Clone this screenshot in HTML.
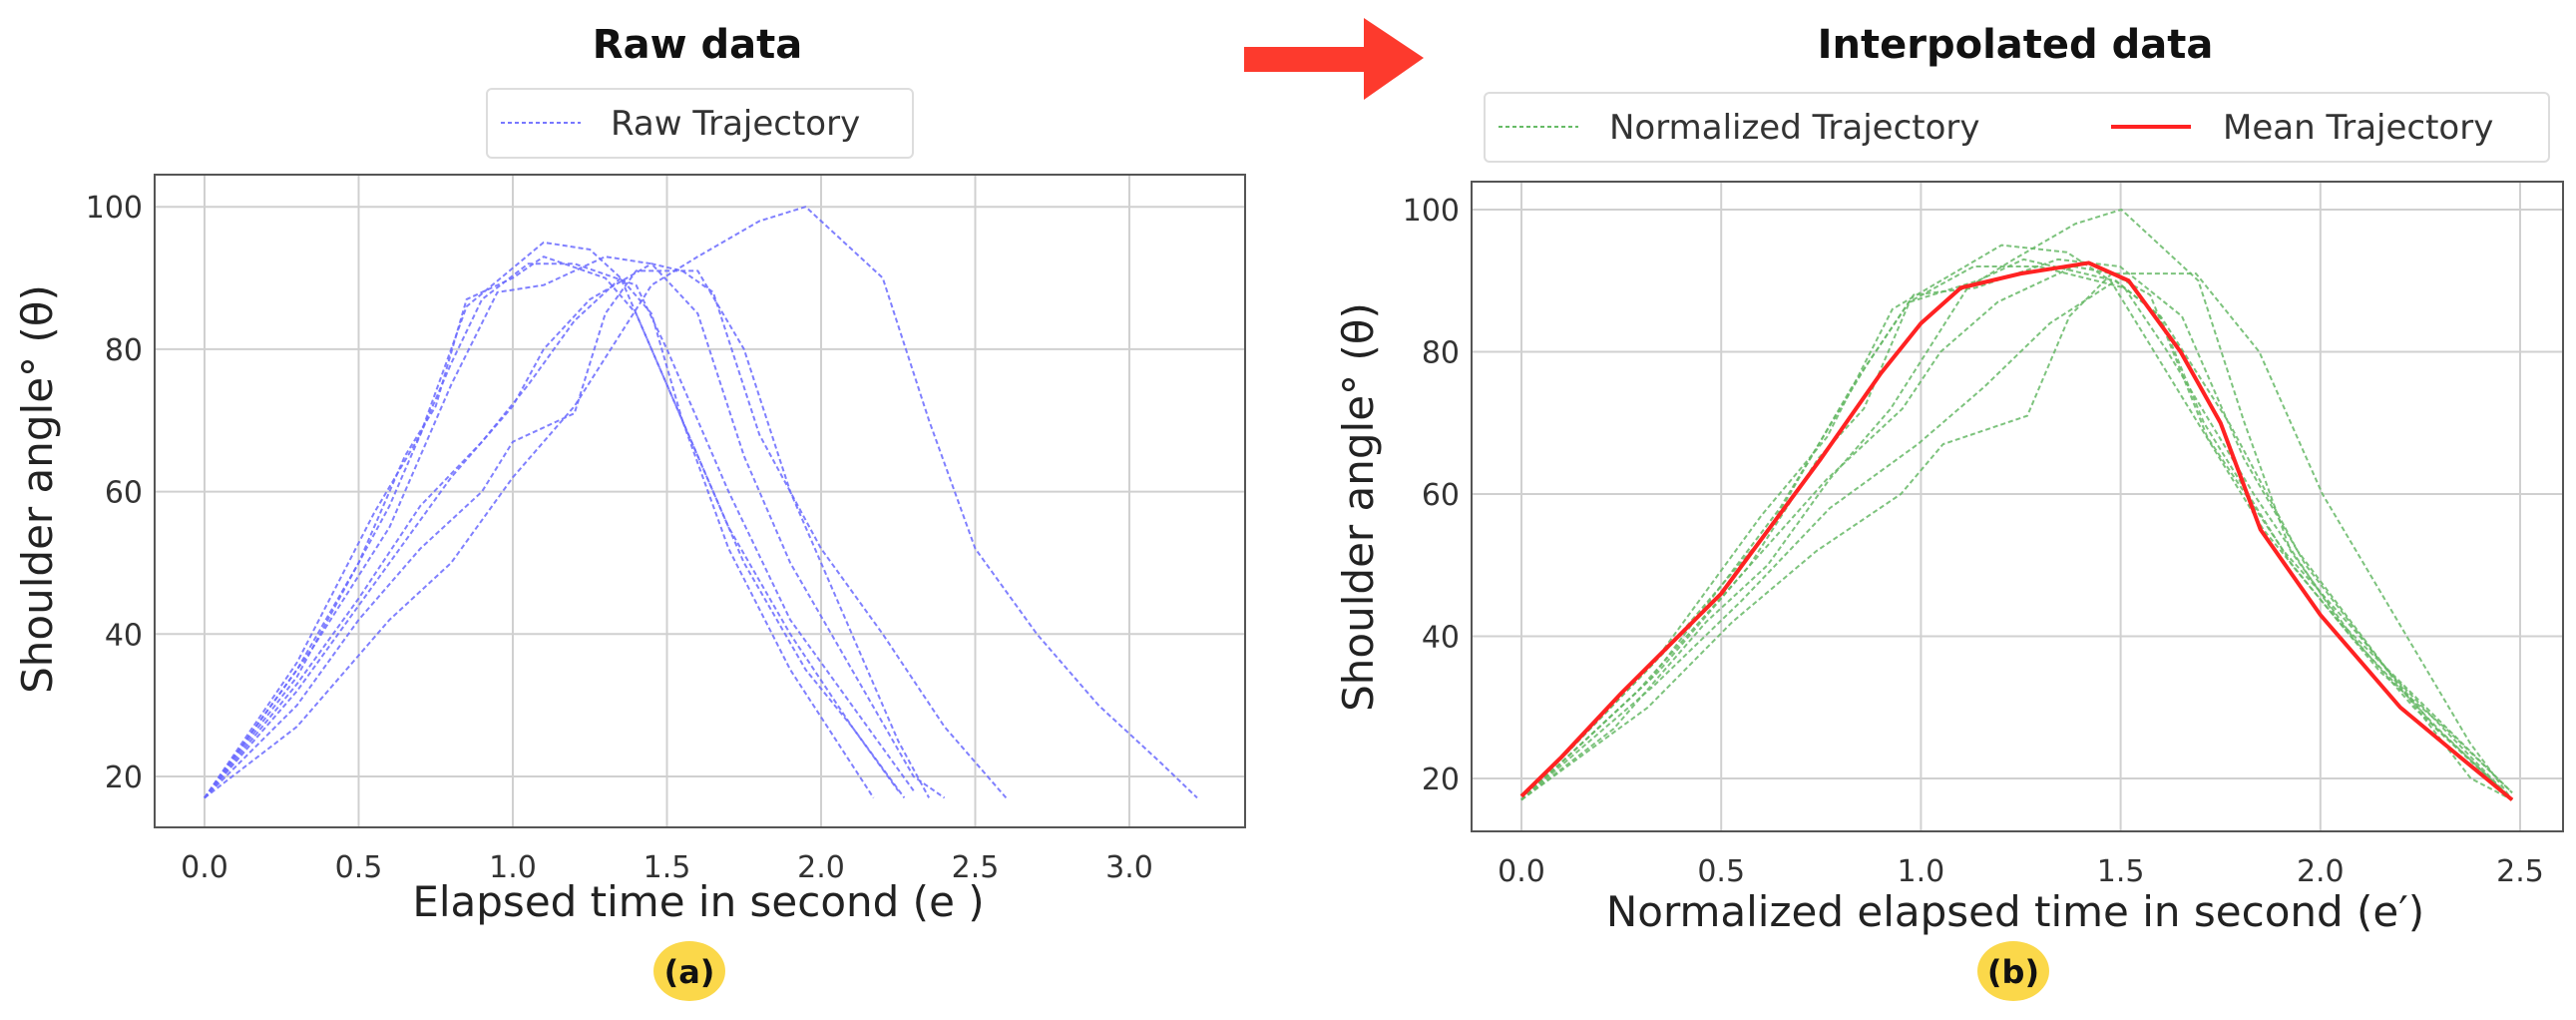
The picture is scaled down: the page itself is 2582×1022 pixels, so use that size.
<!DOCTYPE html>
<html><head><meta charset="utf-8">
<style>
html,body{margin:0;padding:0;background:#fff;}
svg{display:block;font-family:"DejaVu Sans","Liberation Sans",sans-serif;}
</style></head>
<body>
<svg id="fig" width="2582" height="1022" viewBox="0 0 2582 1022" xmlns="http://www.w3.org/2000/svg">
  <polygon points="1247,47 1367,47 1367,18 1427,58 1367,100 1367,72 1247,72" fill="#fd3a2d"/>
  <text x="699" y="58" text-anchor="middle" font-size="40" font-weight="bold" fill="#111">Raw data</text>
  <text x="2020" y="58" text-anchor="middle" font-size="40" font-weight="bold" fill="#111">Interpolated data</text>
  <g id="left"></g>
  <g id="right"></g>
  <g>
    <rect x="488" y="89" width="427" height="69" rx="5" fill="#fff" stroke="#ddd" stroke-width="2"/>
    <line x1="502" y1="123" x2="582" y2="123" stroke="#7777ff" stroke-width="2" stroke-dasharray="4,3"/>
    <text x="612" y="135" font-size="34" fill="#333">Raw Trajectory</text>
  </g>
  <g>
    <rect x="1488" y="93" width="1067" height="69" rx="5" fill="#fff" stroke="#ddd" stroke-width="2"/>
    <line x1="1502" y1="127" x2="1582" y2="127" stroke="#66bb66" stroke-width="2" stroke-dasharray="4,3"/>
    <text x="1613" y="139" font-size="34" fill="#333">Normalized Trajectory</text>
    <line x1="1116" y1="127" x2="1196" y2="127" stroke="#ff2222" stroke-width="4" transform="translate(1000,0)" />
    <text x="2228" y="139" font-size="34" fill="#333">Mean Trajectory</text>
  </g>
  <g>
    <ellipse cx="691" cy="973" rx="36" ry="30" fill="#fbd84a"/>
    <text x="691" y="985" text-anchor="middle" font-size="32" font-weight="bold" fill="#111">(a)</text>
  </g>
  <g>
    <ellipse cx="2018" cy="973" rx="36" ry="30" fill="#fbd84a"/>
    <text x="2018" y="985" text-anchor="middle" font-size="32" font-weight="bold" fill="#111">(b)</text>
  </g>
</svg>
<script>
const rawT1=[0,0.3,0.5,0.65,0.75,0.85,1.0,1.1,1.3,1.4,1.55,1.7,1.9,2.05,2.17];
const rawY1=[17,35,50,65,72,87,90,93,90,85,70,52,35,25,17];
const rawT2=[0,0.3,0.55,0.7,0.85,1.1,1.25,1.35,1.5,1.7,1.9,2.1,2.27];
const rawY2=[17,36,57,68,86,95,94,90,75,55,40,27,17];
const rawT3=[0,0.3,0.6,0.8,0.9,1.05,1.2,1.4,1.5,1.7,1.9,2.1,2.3];
const rawY3=[17,34,58,78,87,92,92,89,80,60,42,30,18];
const rawT4=[0,0.35,0.6,0.8,0.95,1.1,1.3,1.45,1.6,1.75,1.9,2.1,2.3,2.4];
const rawY4=[17,38,55,75,88,89,93,92,85,65,50,35,20,17];
const rawT5=[0,0.3,0.6,0.8,1.0,1.1,1.25,1.45,1.55,1.65,1.8,2.0,2.2,2.4,2.6];
const rawY5=[17,32,50,62,72,80,87,92,91,88,68,52,40,27,17];
const rawT6=[0,0.3,0.5,0.7,0.9,1.05,1.2,1.35,1.45,1.55,1.75,1.95,2.1,2.25];
const rawY6=[17,33,45,58,67,75,84,90,85,70,50,35,27,18];
const rawT7=[0,0.3,0.5,0.7,0.9,1.0,1.2,1.3,1.4,1.6,1.75,1.9,2.1,2.25,2.35];
const rawY7=[17,30,42,52,60,67,71,85,91,91,80,60,40,25,17];
const rawT8=[0,0.3,0.6,0.8,1.0,1.2,1.45,1.6,1.8,1.95,2.05,2.2,2.35,2.5,2.7,2.9,3.1,3.22];
const rawY8=[17,27,42,50,62,72,89,93,98,100,96,90,70,52,40,30,22,17];
const meanT=[0,0.1,0.25,0.5,0.75,0.9,1.0,1.1,1.25,1.42,1.52,1.65,1.75,1.85,2.0,2.2,2.35,2.48];
const meanY=[17.5,23,32,46,65,77,84,89,91,92.5,90,80,70,55,43,30,23,17];
const normEnd=2.48;
const leftXTicks=[0,0.5,1.0,1.5,2.0,2.5,3.0];
const rightXTicks=[0,0.5,1.0,1.5,2.0,2.5];
const yTicks=[20,40,60,80,100];
const rawTs=[rawT1,rawT2,rawT3,rawT4,rawT5,rawT6,rawT7,rawT8];
const rawYs=[rawY1,rawY2,rawY3,rawY4,rawY5,rawY6,rawY7,rawY8];

const NS="http://www.w3.org/2000/svg";
function mk(tag,attrs,parent){const e=document.createElementNS(NS,tag);for(const k in attrs)e.setAttribute(k,attrs[k]);parent.appendChild(e);return e;}

function chart(g,cfg){
  const sx=v=>cfg.x0+(v-cfg.xmin)*cfg.xs;
  const sy=v=>cfg.y20+(v-20)*cfg.ys;
  // grid
  cfg.xticks.forEach(t=>{
    const l=mk('line',{x1:sx(t),x2:sx(t),y1:cfg.top,y2:cfg.bot,stroke:'#d0d0d0','stroke-width':2},g);
    
    
    const tx=mk('text',{x:sx(t),y:cfg.bot+50,'text-anchor':'middle','font-size':30,fill:'#333'},g);
    tx.textContent=t.toFixed(1);
    
    
  });
  yTicks.forEach(t=>{
    const l=mk('line',{x1:cfg.left,x2:cfg.right,y1:sy(t),y2:sy(t),stroke:'#d0d0d0','stroke-width':2},g);
    
    
    const tx=mk('text',{x:cfg.left-12,y:sy(t)+11,'text-anchor':'end','font-size':30,fill:'#333'},g);
    tx.textContent=t;
    
    
  });
  const fr=mk('rect',{x:cfg.left,y:cfg.top,width:cfg.right-cfg.left,height:cfg.bot-cfg.top,fill:'none',stroke:'#555','stroke-width':2},g);
  
  
  cfg.series.forEach(s=>{
    const pts=s.t.map((t,i)=>sx(t*s.k)+','+sy(s.y[i])).join(' ');
    const p=mk('polyline',{points:pts,fill:'none',stroke:s.color,'stroke-width':s.w,'stroke-dasharray':s.dash||'none','stroke-linejoin':'round',opacity:s.op||1},g);
    
    
  });
  const xl=mk('text',{x:cfg.xlx,y:cfg.xly,'text-anchor':'middle','font-size':42,fill:'#222'},g);
  xl.textContent=cfg.xlabel;
  
  
  const yl=mk('text',{x:0,y:0,'text-anchor':'middle','font-size':42,fill:'#222',transform:`translate(${cfg.ylx},${cfg.yly}) rotate(-90)`},g);
  yl.textContent='Shoulder angle° (θ)';
  
  
}

chart(document.getElementById('left'),{
  x0:205,xmin:0,xs:309,y20:778,ys:-7.135,left:155,right:1248,top:175,bot:829,
  xticks:leftXTicks,xlabel:'Elapsed time in second (e )',xlx:700,xly:918,ylx:52,yly:490,
  series:rawTs.map((t,i)=>({t:t,y:rawYs[i],k:1,color:'#6a6aff',w:2,dash:'5,3',op:0.85,name:'raw-trajectory-'+(i+1)}))
});
chart(document.getElementById('right'),{
  x0:1525,xmin:0,xs:400.4,y20:780,ys:-7.125,left:1475,right:2569,top:182,bot:833,
  xticks:rightXTicks,xlabel:"Normalized elapsed time in second (e′)",xlx:2020,xly:928,ylx:1376,yly:508,
  series:rawTs.map((t,i)=>({t:t,y:rawYs[i],k:normEnd/t[t.length-1],color:'#66b866',w:2,dash:'5,3',op:0.85,name:'normalized-trajectory-'+(i+1)}))
    .concat([{t:meanT,y:meanY,k:1,color:'#ff2222',w:4,name:'mean-trajectory'}])
});
</script>
</body></html>
